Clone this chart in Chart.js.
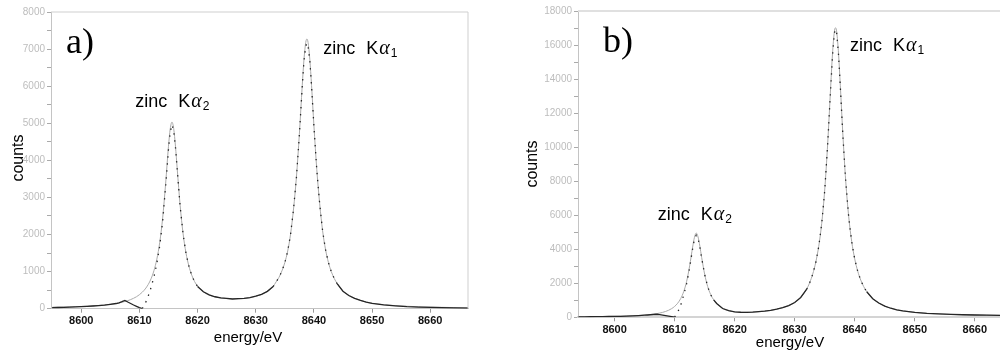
<!DOCTYPE html>
<html><head><meta charset="utf-8">
<script src="https://cdn.jsdelivr.net/npm/chart.js@4.4.0/dist/chart.umd.min.js"></script>
<style>
html,body{margin:0;padding:0;background:#fff;width:1000px;height:360px;overflow:hidden}
#ca{position:absolute;left:0;top:0}
#cb{position:absolute;left:500px;top:0}
</style></head><body>
<canvas id="ca" width="490" height="360"></canvas>
<canvas id="cb" width="500" height="360"></canvas>
<script>
// ---------- panel a) ----------
const energyA = [8595,8596,8597,8598,8599,8600,8601,8602,8603,8604,8605,8606,
 8606.5,8607,8607.5,8608,8608.5,8609,8609.5,8610,8610.5,8611,8611.5,8612,8612.5,8613,8613.5,8614,8614.5,8615,
 8615.3,8615.6,8615.9,8616.2,8616.5,
 8617,8617.5,8618,8618.5,8619,8619.5,8620,
 8621,8622,8623,8624,8625,8626,8627,8628,8629,8630,8631,8632,8633,
 8633.5,8634,8634.5,8635,8635.5,8636,8636.5,8637,8637.5,8638,
 8638.3,8638.6,8638.8,8639,8639.3,8639.6,
 8640,8640.5,8641,8641.5,8642,8642.5,8643,8643.5,8644,
 8645,8646,8647,8648,8649,8650,
 8652,8654,8656,8658,8660,8662,8664,8666.5];
const fitA = [37,41,44,48,54,61,68,77,88,102,120,143,
 157,174,194,217,246,281,323,377,445,532,648,806,1025,1337,1791,2449,3355,4380,
 4851,5032,4853,4383,3774,
 2790,2036,1512,1153,905,728,610,
 455,368,319,288,272,264,266,276,298,332,385,464,600,
 722,845,1019,1242,1556,2020,2688,3550,4698,6021,
 6728,7180,7274,7180,6726,6019,
 4953,3751,2830,2100,1600,1248,998,817,677,
 475,359,283,227,178,148,
 108,83,66,53,44,37,31,27];
const countsA = [30,33,38,44,50,57,64,73,85,98,118,140,
 160,190,225,180,140,100,65,30,5,140,330,570,860,1220,1700,2360,3280,4300,
 4760,4960,4800,4360,3750,
 2770,2030,1500,1150,900,720,600,
 455,372,322,292,276,262,270,279,300,336,388,468,598,
 718,842,1015,1236,1550,2012,2680,3540,4680,5990,
 6680,7080,7160,7090,6680,6000,
 4940,3745,2826,2098,1598,1246,995,815,675,
 470,355,280,224,176,145,
 104,78,58,45,36,28,22,16];

// ---------- panel b) ----------
const energyB = [8594,8595,8596,8597,8598,8599,8600,8601,8602,8603,8604,8605,
 8605.5,8606,8606.5,8607,8607.5,8608,8608.5,8609,8609.5,8610,8610.5,8611,8611.5,8612,8612.5,8613,
 8613.3,8613.6,8613.9,8614.2,8614.5,
 8615,8615.5,8616,8616.5,8617,
 8618,8619,8620,8621,8622,8623,8624,8625,8626,8627,8628,8629,8630,8631,8632,
 8632.5,8633,8633.5,8634,8634.5,8635,8635.5,8636,
 8636.3,8636.6,8636.8,8637,8637.3,8637.6,
 8638,8638.5,8639,8639.5,8640,8640.5,8641,8641.5,8642,
 8643,8644,8645,8646,8647,8648,
 8650,8652,8654,8656,8658,8660,8662,8664.3];
const fitB = [30,33,36,40,44,50,56,64,74,88,106,130,
 146,165,188,215,248,290,345,415,510,640,825,1095,1500,2115,3020,4130,
 4700,4950,4720,4180,3520,
 2530,1810,1340,1030,820,
 520,390,320,295,295,310,330,365,410,475,565,690,870,1170,1660,
 2040,2540,3220,4170,5520,7480,10230,13600,
 15500,16760,17020,16760,15500,13610,
 10890,8000,5900,4440,3430,2710,2190,1800,1510,
 1100,840,660,535,440,375,
 290,235,198,170,152,137,124,112];
const countsB = [28,30,33,37,41,47,53,60,70,84,100,122,
 135,150,165,178,160,130,100,70,40,12,290,690,1300,1980,2920,4040,
 4600,4820,4640,4120,3480,
 2520,1800,1330,1020,810,
 515,392,318,296,292,308,332,362,412,474,566,688,872,1165,1650,
 2030,2530,3200,4150,5500,7450,10200,13500,
 15400,16700,16920,16680,15420,13550,
 10850,7980,5880,4430,3420,2700,2180,1790,1500,
 1095,838,655,532,438,372,
 288,232,196,168,150,135,122,110];

const energyTicks = [8600,8610,8620,8630,8640,8650,8660];
const xTitle = 'energy/eV';
const yTitle = 'counts';

Chart.defaults.font.family = '"Liberation Sans", Arial, sans-serif';

function drawPeakLabel(ctx, x, y, sub) {
  ctx.fillStyle = '#000';
  ctx.textAlign = 'left';
  ctx.textBaseline = 'alphabetic';
  ctx.font = '18px "Liberation Sans", Arial, sans-serif';
  ctx.fillText('zinc', x, y);
  x += ctx.measureText('zinc').width + 11;
  ctx.fillText('K', x, y);
  x += ctx.measureText('K').width + 1;
  ctx.font = 'italic 20px "Liberation Serif", serif';
  ctx.fillText('\u03b1', x, y);
  x += ctx.measureText('\u03b1').width + 1;
  ctx.font = '12px "Liberation Sans", Arial, sans-serif';
  ctx.fillText(sub, x, y + 3);
}

const decor = {
  id: 'decor',
  afterDatasetsDraw(chart, args, o) {
    const ctx = chart.ctx, ca = chart.chartArea;
    const xs = chart.scales.x, ys = chart.scales.y;
    ctx.save();
    ctx.strokeStyle = o.frameColor; ctx.lineWidth = o.frameWidth;
    ctx.beginPath();
    ctx.moveTo(ca.left, ca.top); ctx.lineTo(ca.right, ca.top);
    if (o.rightLine) { ctx.moveTo(ca.right, ca.top); ctx.lineTo(ca.right, ca.bottom); }
    ctx.stroke();
    ctx.fillStyle = '#000';
    ctx.textBaseline = 'alphabetic'; ctx.textAlign = 'left';
    ctx.font = '36px "Liberation Serif", "Times New Roman", serif';
    ctx.fillText(o.panel, o.panelX, o.panelY);
    for (const p of o.peaks) drawPeakLabel(ctx, xs.getPixelForValue(p.e), ys.getPixelForValue(p.c), p.sub);
    ctx.font = '15px "Liberation Sans", Arial, sans-serif';
    ctx.textAlign = 'center';
    ctx.fillText(xTitle, o.xtX, o.xtY);
    ctx.save();
    ctx.translate(o.ytX, o.ytY); ctx.rotate(-Math.PI / 2);
    ctx.font = '16px "Liberation Sans", Arial, sans-serif';
    ctx.fillText(yTitle, 0, 0);
    ctx.restore();
    ctx.restore();
  }
};

// steep parts of the measured curve are drawn dotted (as in the original plot)
const steep = (c) => Math.abs(c.p1.y - c.p0.y) > 1.5 * Math.abs(c.p1.x - c.p0.x);

function makeChart(id, cfg) {
  const pts = (ys) => cfg.e.map((x, i) => ({ x: x, y: ys[i] }));
  return new Chart(document.getElementById(id), {
    type: 'line',
    data: { datasets: [
      { label: 'measured', data: pts(cfg.counts), borderColor: '#262626', borderWidth: 1.3,
        pointRadius: 0, pointHoverRadius: 0, tension: 0, fill: false,
        segment: { borderDash: (c) => (steep(c) ? [1.4, 5.6] : undefined) } },
      { label: 'fit', data: pts(cfg.fit), borderColor: '#ababab', borderWidth: 1,
        pointRadius: 0, cubicInterpolationMode: 'monotone', fill: false }
    ]},
    plugins: [decor],
    options: {
      responsive: false, animation: false, devicePixelRatio: 1,
      layout: { padding: { top: cfg.padTop, right: cfg.padRight, left: 0, bottom: 0 } },
      plugins: { legend: { display: false }, tooltip: { enabled: false }, decor: cfg.decor },
      scales: {
        x: {
          type: 'linear', min: cfg.xmin, max: cfg.xmax,
          afterBuildTicks: (s) => { s.ticks = energyTicks.map(v => ({ value: v })); },
          afterFit: (s) => { s.height = cfg.xh; },
          ticks: { callback: (v) => String(v), color: '#111', font: { size: 11, weight: 'bold' },
                   padding: 2, maxRotation: 0, autoSkip: false },
          grid: { display: true, drawOnChartArea: false, drawTicks: true, tickLength: 4, color: '#999' },
          border: { display: true, color: cfg.axisColor, width: cfg.xAxisWidth }
        },
        y: {
          min: 0, max: cfg.ymax,
          afterFit: (s) => { s.width = cfg.yw; },
          ticks: { stepSize: cfg.minorStep, callback: (v) => (v % cfg.majorStep === 0 ? String(v) : ''),
                   color: '#bdbdbd', font: { size: 10 }, padding: 2, autoSkip: false },
          grid: { display: true, drawOnChartArea: false, drawTicks: true, tickLength: 4, color: '#aaa' },
          border: { display: true, color: '#c4c4c4', width: 1 }
        }
      }
    }
  });
}

makeChart('ca', {
  e: energyA, fit: fitA, counts: countsA,
  xmin: 8594.8, xmax: 8666.5, ymax: 8000, minorStep: 500, majorStep: 1000,
  padTop: 12, padRight: 22, xh: 51.3, yw: 51, axisColor: '#c4c4c4', xAxisWidth: 1,
  decor: { frameColor: '#cfcfcf', frameWidth: 1, rightLine: true, panel: 'a)', panelX: 66, panelY: 53,
    peaks: [ { e: 8609.3, c: 5430, sub: '2' }, { e: 8641.6, c: 6860, sub: '1' } ],
    xtX: 248, xtY: 342, ytX: 22.5, ytY: 158 }
});

makeChart('cb', {
  e: energyB, fit: fitB, counts: countsB,
  xmin: 8593.9, xmax: 8664.2, ymax: 18000, minorStep: 1000, majorStep: 2000,
  padTop: 11, padRight: 0, xh: 42.7, yw: 78, axisColor: '#d4d4d4', xAxisWidth: 2,
  decor: { frameColor: '#e0e0e0', frameWidth: 2, rightLine: false, panel: 'b)', panelX: 103, panelY: 52,
    peaks: [ { e: 8639.2, c: 15650, sub: '1' }, { e: 8607.2, c: 5700, sub: '2' } ],
    xtX: 290, xtY: 347, ytX: 36.5, ytY: 164 }
});
</script>
</body></html>
